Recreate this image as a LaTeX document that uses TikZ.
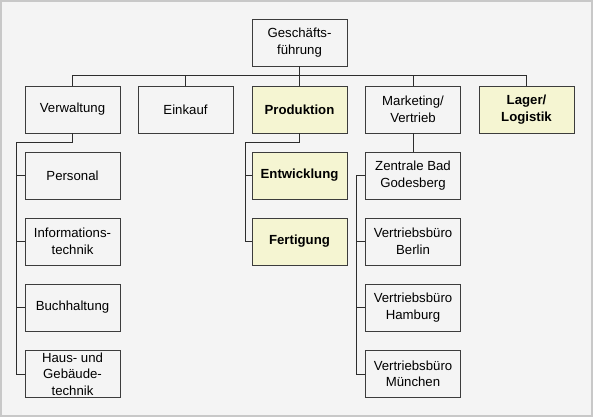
\documentclass[tikz,border=0pt]{standalone}
\usepackage{fontspec}
\setmainfont{Liberation Sans}
\definecolor{bgc}{RGB}{244,244,244}
\definecolor{frame}{RGB}{200,200,200}
\definecolor{boxline}{RGB}{60,60,60}
\definecolor{yel}{RGB}{245,245,210}
\definecolor{conn}{RGB}{45,45,45}
\begin{document}
\begin{tikzpicture}[x=1pt,y=-1pt,
  box/.style={draw=boxline,line width=0.9pt,fill=bgc,minimum width=95pt,minimum height=47pt,
    inner sep=1pt,align=center,font=\fontsize{13.2}{16.5}\selectfont},
  hbox/.style={box,fill=yel,font=\fontsize{13.2}{16.5}\selectfont\bfseries},
  link/.style={draw=conn,line width=1pt}]
\fill[bgc] (0,0) rectangle (593,417);
\draw[frame,line width=2pt] (1,1) rectangle (592,416);
\useasboundingbox (0,0) rectangle (593,417);
\node[box] (gf) at (299.5,42.5) {Geschäfts-\\führung};
\node[box] (verw) at (72.5,109.5) {Verwaltung};
\node[box] (eink) at (185.5,109.5) {Einkauf};
\node[hbox] (prod) at (299.5,109.5) {Produktion};
\node[box] (mark) at (413,109.5) {Marketing/\\Vertrieb};
\node[hbox] (lager) at (526.5,109.5) {Lager/\\Logistik};
\node[box] (pers) at (72.5,175.5) {Personal};
\node[box] (info) at (72.5,241.5) {Informations-\\technik};
\node[box] (buch) at (72.5,307.5) {Buchhaltung};
\node[box] (haus) at (72.5,374) {Haus- und\\Gebäude-\\technik};
\node[hbox] (entw) at (299.5,175.5) {Entwicklung};
\node[hbox] (fert) at (299.5,241.5) {Fertigung};
\node[box] (zent) at (413,175.5) {Zentrale Bad\\Godesberg};
\node[box] (berl) at (413,241.5) {Vertriebsbüro\\Berlin};
\node[box] (hamb) at (413,307.5) {Vertriebsbüro\\Hamburg};
\node[box] (muen) at (413,374) {Vertriebsbüro\\München};
% top bus
\draw[link] (gf.south) -- (prod.north);
\draw[link] (verw.north) -- ++(0,-10) -| (lager.north);
\draw[link] (eink.north) -- ++(0,-10);
\draw[link] (mark.north) -- ++(0,-10);
% Verwaltung
\coordinate (vs) at (16,142);
\draw[link] (verw.south) |- (vs) |- (haus.west);
\draw[link] (pers.west) -- (pers.west -| vs);
\draw[link] (info.west) -- (info.west -| vs);
\draw[link] (buch.west) -- (buch.west -| vs);
% Produktion
\coordinate (ps) at (245,142);
\draw[link] (prod.south) |- (ps) |- (fert.west);
\draw[link] (entw.west) -- (entw.west -| ps);
% Marketing
\draw[link] (mark.south) -- (zent.north);
\coordinate (ms) at (356.5,175.5);
\draw[link] (zent.west) -- (ms) |- (muen.west);
\draw[link] (berl.west) -- (berl.west -| ms);
\draw[link] (hamb.west) -- (hamb.west -| ms);
\end{tikzpicture}
\end{document}
